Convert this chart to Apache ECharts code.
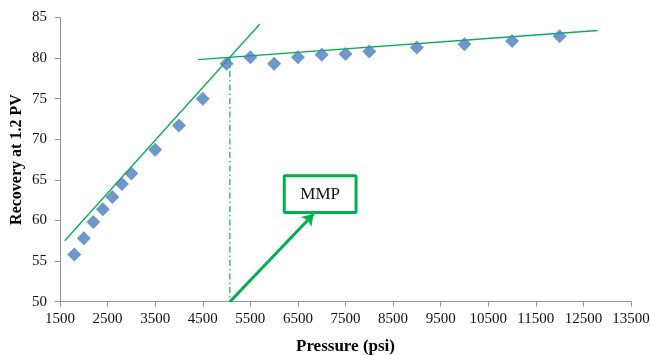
<!DOCTYPE html>
<html><head><meta charset="utf-8">
<script src="https://cdn.jsdelivr.net/npm/echarts@6/dist/echarts.min.js"></script>
<style>html,body{margin:0;padding:0;background:#fff}#c{width:650px;height:355px}</style>
</head><body><div id="c"></div>
<script>
const pressure = [1800,2000,2200,2400,2600,2800,3000,3500,4000,4500,5000,5500,6000,6500,7000,7500,8000,9000,10000,11000,12000];
const recovery = [55.8,57.8,59.8,61.4,62.9,64.5,65.8,68.7,71.7,75.0,79.3,80.1,79.3,80.1,80.4,80.5,80.8,81.3,81.7,82.1,82.7];
const steepLine = [[1600,57.5],[5700,84.2]];
const flatLine = [[4400,79.8],[12800,83.4]];
const mmpX = 5070, mmpY = 80.07;
const arrowFrom = [5070,50], arrowTo = [6830,60.8];
const boxCorners = [[6213,65.5],[7722,61.0]];
const boxText = 'MMP';
const green = '#00B050';
const serif = '"Liberation Serif","Times New Roman",serif';

const chart = echarts.init(document.getElementById('c'));
chart.setOption({
  animation:false,
  grid:{left:60,right:19,top:17.5,bottom:53.3,containLabel:false,outerBoundsMode:'none'},
  xAxis:{type:'value',min:1500,max:13500,interval:1000,
    name:'Pressure (psi)',nameLocation:'middle',nameGap:36,nameMoveOverlap:false,
    nameTextStyle:{fontFamily:serif,fontWeight:'bold',fontSize:17,color:'#000'},
    axisLine:{lineStyle:{color:'#969696',width:1}},
    axisTick:{show:true,length:5,lineStyle:{color:'#969696'}},
    axisLabel:{fontFamily:serif,fontSize:15,color:'#111',margin:10,formatter:v=>String(v)},
    splitLine:{show:false}},
  yAxis:{type:'value',min:50,max:85,interval:5,
    name:'Recovery at 1.2 PV',nameLocation:'middle',nameGap:35,nameMoveOverlap:false,
    nameTextStyle:{fontFamily:serif,fontWeight:'bold',fontSize:16,color:'#000'},
    axisLine:{show:true,lineStyle:{color:'#969696',width:1}},
    axisTick:{show:true,length:5,lineStyle:{color:'#969696'}},
    axisLabel:{fontFamily:serif,fontSize:15,color:'#111',margin:13},
    splitLine:{show:false}},
  series:[
    {type:'line',data:steepLine,symbol:'none',lineStyle:{color:green,width:1.3},z:3},
    {type:'line',data:flatLine,symbol:'none',lineStyle:{color:green,width:1.3},z:3},
    {type:'line',data:[[mmpX,mmpY],[mmpX,50]],symbol:'none',
      lineStyle:{color:green,width:1.2,type:[6,3,1.5,3]},z:2},
    {type:'scatter',data:pressure.map((p,i)=>[p,recovery[i]]),symbol:'diamond',symbolSize:14,
      itemStyle:{color:'#4A7EBB'},z:4},
    {type:'lines',coordinateSystem:'cartesian2d',
      data:[{coords:[arrowFrom,arrowTo]}],
      symbol:['none','arrow'],symbolSize:11,
      lineStyle:{color:green,width:3,opacity:1},z:5},
    {type:'custom',z:6,data:[[boxCorners[0][0],boxCorners[0][1],boxCorners[1][0],boxCorners[1][1]]],
      renderItem:function(params,api){
        const a=api.coord([api.value(0),api.value(1)]);
        const b=api.coord([api.value(2),api.value(3)]);
        return {type:'group',children:[
          {type:'rect',shape:{x:a[0],y:a[1],width:b[0]-a[0],height:b[1]-a[1],r:1},
           style:{fill:'#fff',stroke:green,lineWidth:3}},
          {type:'text',style:{text:boxText,x:(a[0]+b[0])/2,y:(a[1]+b[1])/2,align:'center',verticalAlign:'middle',
            font:'17px '+serif,fill:'#111'}}
        ]};
      }}
  ]
});
</script></body></html>
